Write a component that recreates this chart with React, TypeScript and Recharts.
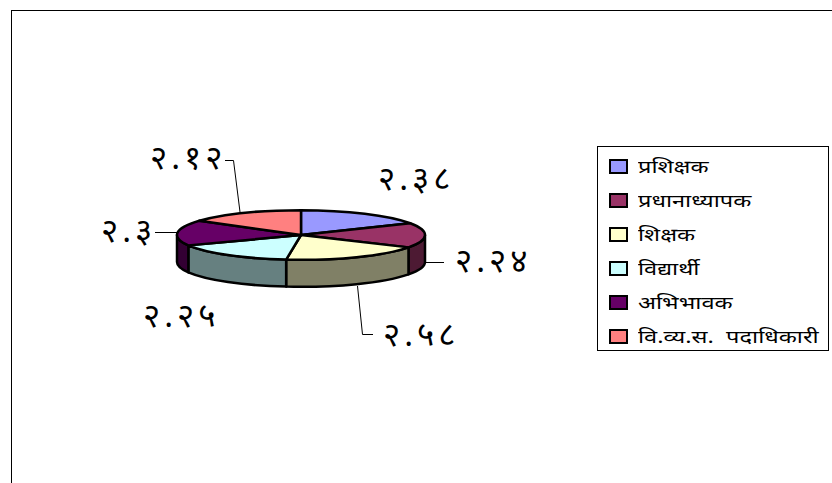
import { Legend, Pie, PieChart } from 'recharts';

const CATEGORIES = ['प्रशिक्षक', 'प्रधानाध्यापक', 'शिक्षक', 'विद्यार्थी', 'अभिभावक', 'वि.व्य.स.  पदाधिकारी'];
const VALUES = [2.38, 2.24, 2.58, 2.25, 2.3, 2.12];
const VALUE_LABELS = ['२.३८', '२.२४', '२.५८', '२.२५', '२.३', '२.१२'];
const TOP_COLORS = ['#9999ff', '#993366', '#ffffcc', '#ccffff', '#660066', '#ff8080'];
const SIDE_COLORS = ['#666699', '#4d1a33', '#808066', '#668080', '#330033', '#804040'];

// where the value labels sit, and their leader lines
const LABEL_X = [378, 455, 383, 143, 101, 150];
const LABEL_Y = [190, 272, 346, 327, 242, 169];
const LEADERS = ['', '426,262.5 444,262.5', '357.5,286 362.5,334.5 373,334.5', '', '155,232.5 177,232.5', '225,160.5 233.5,160.5 240,212'];

const CX = 301;
const CY = 235;
const RX = 124;
const SQUASH = 0.2;
const DEPTH = 27;

const topRows = CATEGORIES.map((name, i) => ({ name, value: VALUES[i], fill: TOP_COLORS[i] }));
const sideRows = CATEGORIES.map((name, i) => ({ name, value: VALUES[i], fill: SIDE_COLORS[i] }));

const point = (cx: number, cy: number, r: number, deg: number) => {
  const a = (deg * Math.PI) / 180;
  return [cx + r * Math.cos(a), cy - r * SQUASH * Math.sin(a)];
};

const TopSlice = (props: any) => {
  const { cx, cy, outerRadius: r, startAngle, endAngle, fill } = props;
  const [x0, y0] = point(cx, cy, r, startAngle);
  const [x1, y1] = point(cx, cy, r, endAngle);
  const large = Math.abs(startAngle - endAngle) > 180 ? 1 : 0;
  const d = `M${cx},${cy} L${x0},${y0} A${r},${r * SQUASH} 0 ${large} 1 ${x1},${y1} Z`;
  return <path d={d} fill={fill} stroke='#000' strokeWidth={2.5} strokeLinejoin='round' />;
};

// only the front half of the rim is visible
const SideSlice = (props: any) => {
  const { cx, cy, outerRadius: r, startAngle, endAngle, fill } = props;
  const hi = Math.min(startAngle, 0);
  const lo = Math.max(endAngle, -180);
  if (hi <= lo) return <g />;
  const [x0, y0] = point(cx, cy, r, hi);
  const [x1, y1] = point(cx, cy, r, lo);
  const ry = r * SQUASH;
  const d = `M${x0},${y0} A${r},${ry} 0 0 1 ${x1},${y1} L${x1},${y1 + DEPTH} A${r},${ry} 0 0 0 ${x0},${y0 + DEPTH} Z`;
  return <path d={d} fill={fill} stroke='#000' strokeWidth={2.5} strokeLinejoin='round' />;
};

const renderLabel = ({ index }: any) => (
  <g>
    {LEADERS[index] && <polyline points={LEADERS[index]} fill='none' stroke='#000' strokeWidth={1} />}
    <text x={LABEL_X[index]} y={LABEL_Y[index]} fontSize={33} letterSpacing={4} fill='#000' fontFamily='"Noto Sans", sans-serif'>
      {VALUE_LABELS[index]}
    </text>
  </g>
);

const LegendBox = () => (
  <div style={{ width: 230, height: 203, border: '1px solid #000', background: '#fff', boxSizing: 'content-box' }}>
    {CATEGORIES.map((name, i) => (
      <div key={name} style={{ display: 'flex', alignItems: 'center', height: 34, marginLeft: 11, marginTop: i === 0 ? 2 : 0 }}>
        <span style={{ width: 15, height: 11, border: '2px solid #000', background: TOP_COLORS[i], marginRight: 10 }} />
        <span
          style={{
            fontSize: 18,
            fontFamily: '"Noto Sans", sans-serif',
            whiteSpace: 'pre',
            color: '#000',
            display: 'inline-block',
            transform: 'scaleX(1.31)',
            transformOrigin: 'left center',
          }}
        >
          {name}
        </span>
      </div>
    ))}
  </div>
);

export default function App() {
  return (
    <div style={{ position: 'absolute', left: 0, top: 0, width: 832, height: 483, overflow: 'hidden', background: '#fff' }}>
      <div style={{ position: 'absolute', left: 11, top: 10, width: 900, height: 600, border: '1px solid #000' }} />
      <div style={{ position: 'absolute', left: 0, top: 0 }}>
        <PieChart width={832} height={483} margin={{ top: 0, right: 0, bottom: 0, left: 0 }}>
          <Pie
            data={sideRows}
            dataKey='value'
            nameKey='name'
            cx={CX}
            cy={CY}
            outerRadius={RX}
            startAngle={90}
            endAngle={-270}
            stroke='none'
            legendType='none'
            shape={SideSlice}
            isAnimationActive={false}
          />
          <Pie
            data={topRows}
            dataKey='value'
            nameKey='name'
            cx={CX}
            cy={CY}
            outerRadius={RX}
            startAngle={90}
            endAngle={-270}
            shape={TopSlice}
            label={renderLabel}
            labelLine={false}
            isAnimationActive={false}
          />
          <Legend content={<LegendBox />} wrapperStyle={{ position: 'absolute', left: 597, top: 146, width: 232, height: 205 }} />
        </PieChart>
      </div>
    </div>
  );
}
